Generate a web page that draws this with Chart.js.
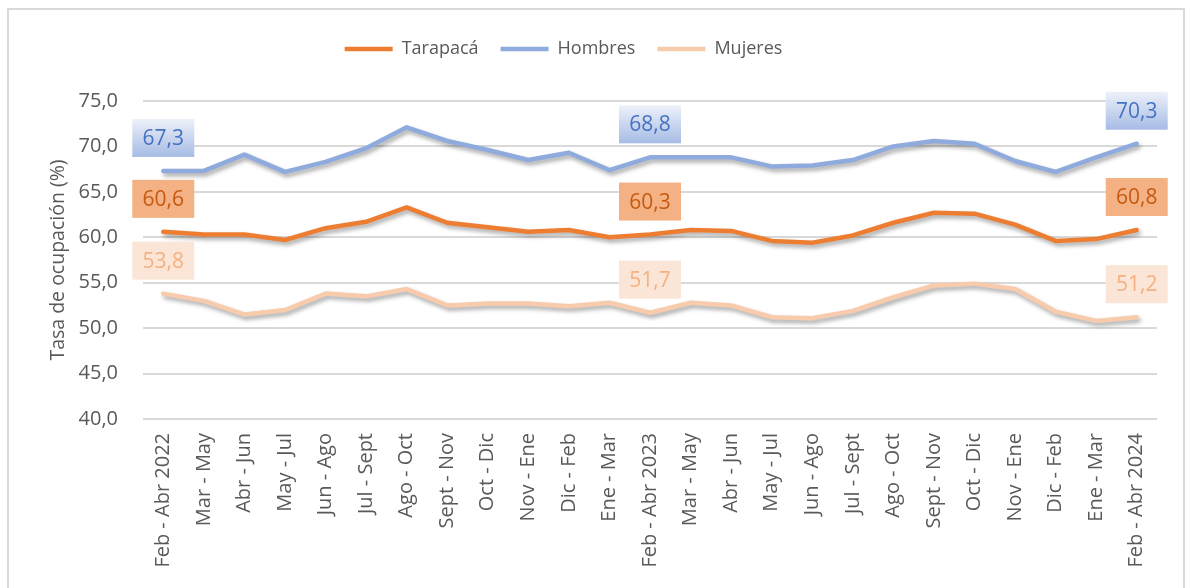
<!DOCTYPE html>
<html lang="es">
<head>
<meta charset="utf-8">
<title>Tasa de ocupación</title>
<script src="https://cdn.jsdelivr.net/npm/chart.js@4.4.1/dist/chart.umd.min.js"></script>
<style>
  html, body { margin: 0; padding: 0; background: #ffffff; }
  #wrap { width: 1193px; height: 588px; position: relative; }
</style>
</head>
<body>
<div id="wrap"><canvas id="ocupacionChart" width="1193" height="588"></canvas></div>
<script>
const categories = [
  "Feb - Abr 2022", "Mar - May", "Abr - Jun", "May - Jul", "Jun - Ago", "Jul - Sept",
  "Ago - Oct", "Sept - Nov", "Oct - Dic", "Nov - Ene", "Dic - Feb", "Ene - Mar",
  "Feb - Abr 2023", "Mar - May", "Abr - Jun", "May - Jul", "Jun - Ago", "Jul - Sept",
  "Ago - Oct", "Sept - Nov", "Oct - Dic", "Nov - Ene", "Dic - Feb", "Ene - Mar",
  "Feb - Abr 2024"
];

const tarapaca = [60.6, 60.3, 60.3, 59.7, 61.0, 61.7, 63.3, 61.6, 61.1, 60.6, 60.8, 60.0,
  60.3, 60.8, 60.7, 59.6, 59.4, 60.2, 61.6, 62.7, 62.6, 61.4, 59.6, 59.8, 60.8];
const hombres = [67.3, 67.3, 69.1, 67.2, 68.3, 69.8, 72.1, 70.6, 69.6, 68.5, 69.3, 67.4,
  68.8, 68.8, 68.8, 67.8, 67.9, 68.5, 70.0, 70.6, 70.3, 68.4, 67.2, 68.8, 70.3];
const mujeres = [53.8, 53.0, 51.5, 52.0, 53.8, 53.5, 54.3, 52.5, 52.7, 52.7, 52.4, 52.8,
  51.7, 52.8, 52.5, 51.2, 51.1, 51.9, 53.4, 54.7, 54.9, 54.3, 51.8, 50.8, 51.2];

const yTicks = [40, 45, 50, 55, 60, 65, 70, 75];
const labeledPoints = [0, 12, 24];

const TEXT_GRAY = "#595959";
const GRID_GRAY = "#D9D9D9";
const LINE_WIDTH = 4.5;

function formatComma(value) {
  return Number(value).toFixed(1).replace(".", ",");
}

// box styles for the value labels, one per dataset
const labelStyles = [
  { fill: "#F4B183", text: "#C55A11" },
  { fill: "gradient", text: "#4472C4" },
  { fill: "#FBE5D6", text: "#F4B183" },
];

const frameBorder = {
  id: "frameBorder",
  beforeDraw(chart) {
    const ctx = chart.ctx;
    ctx.save();
    ctx.strokeStyle = GRID_GRAY;
    ctx.lineWidth = 2;
    ctx.strokeRect(8, 9, 1176, 600);
    ctx.restore();
  },
};

// legend sits a bit left of centre in the original
const legendShift = {
  id: "legendShift",
  afterLayout(chart) {
    if (!chart.legend) return;
    chart.legend.left -= 30;
    chart.legend.right -= 30;
  },
};

const lineShadow = {
  id: "lineShadow",
  beforeDatasetDraw(chart) {
    const ctx = chart.ctx;
    ctx.save();
    ctx.shadowColor = "rgba(0, 0, 0, 0.35)";
    ctx.shadowBlur = 4;
    ctx.shadowOffsetX = 2;
    ctx.shadowOffsetY = 3;
  },
  afterDatasetDraw(chart) {
    chart.ctx.restore();
  },
};

const valueBoxes = {
  id: "valueBoxes",
  afterDatasetsDraw(chart) {
    const ctx = chart.ctx;
    ctx.save();
    ctx.font = "21px 'Open Sans', sans-serif";
    ctx.textAlign = "center";
    ctx.textBaseline = "middle";
    chart.data.datasets.forEach((ds, di) => {
      const meta = chart.getDatasetMeta(di);
      const style = labelStyles[di];
      labeledPoints.forEach((idx) => {
        const pt = meta.data[idx];
        if (!pt) return;
        const w = 62;
        const h = 38;
        const cx = pt.x;
        const cy = pt.y - 33;
        if (style.fill === "gradient") {
          const g = ctx.createLinearGradient(0, cy - h / 2, 0, cy + h / 2);
          g.addColorStop(0, "#EDF1F9");
          g.addColorStop(1, "#A6BBE5");
          ctx.fillStyle = g;
        } else {
          ctx.fillStyle = style.fill;
        }
        ctx.fillRect(cx - w / 2, cy - h / 2, w, h);
        ctx.fillStyle = style.text;
        ctx.fillText(formatComma(ds.data[idx]), cx, cy + 1);
      });
    });
    ctx.restore();
  },
};

function makeDataset(label, data, color) {
  return {
    label,
    data,
    borderColor: color,
    backgroundColor: color,
    pointBorderColor: color,
    pointBackgroundColor: color,
    pointBorderWidth: LINE_WIDTH,
  };
}

function main() {
  Chart.defaults.font.family = "'Open Sans', sans-serif";
  Chart.defaults.color = TEXT_GRAY;

  const ctx = document.getElementById("ocupacionChart");
  new Chart(ctx.getContext("2d"), {
    type: "line",
    data: {
      labels: categories,
      datasets: [
        makeDataset("Tarapacá", tarapaca, "#ED7D31"),
        makeDataset("Hombres", hombres, "#8FAADC"),
        makeDataset("Mujeres", mujeres, "#F8CBAD"),
      ],
    },
    options: {
      responsive: false,
      animation: false,
      elements: {
        line: {
          borderWidth: LINE_WIDTH,
          tension: 0,
          borderJoinStyle: "round",
          borderCapStyle: "round",
        },
        point: { radius: 0, hoverRadius: 0 },
      },
      layout: {
        padding: { top: 18, left: 30, right: 36, bottom: 0 },
      },
      scales: {
        x: {
          offset: true,
          grid: { display: false, drawTicks: false },
          border: { display: false },
          ticks: {
            autoSkip: false,
            minRotation: 90,
            maxRotation: 90,
            padding: 14,
            color: TEXT_GRAY,
            font: { size: 20 },
          },
          afterFit(scale) {
            scale.height = 169;
          },
        },
        y: {
          min: 40,
          max: 75,
          afterBuildTicks(scale) {
            scale.ticks = yTicks.map((v) => ({ value: v }));
          },
          grid: { color: GRID_GRAY, lineWidth: 2, drawTicks: false },
          border: { display: false },
          ticks: {
            padding: 25,
            color: TEXT_GRAY,
            font: { size: 20 },
            callback: (value) => formatComma(value),
          },
          title: {
            display: true,
            text: "Tasa de ocupación (%)",
            color: TEXT_GRAY,
            font: { size: 19.5 },
            padding: { top: 17, bottom: 0 },
          },
          afterFit(scale) {
            scale.width = 143 - 30;
          },
        },
      },
      plugins: {
        legend: {
          display: true,
          position: "top",
          labels: {
            usePointStyle: true,
            pointStyle: "line",
            pointStyleWidth: 48,
            padding: 22,
            color: TEXT_GRAY,
            font: { size: 18 },
          },
        },
        // empty block under the legend, keeps the plot top where the reference has it
        subtitle: {
          display: true,
          text: " ",
          position: "top",
          weight: 500,
          font: { size: 10 },
          padding: { top: 0, bottom: 21 },
        },
        tooltip: { enabled: false },
      },
    },
    plugins: [frameBorder, legendShift, lineShadow, valueBoxes],
  });
}

document.addEventListener("DOMContentLoaded", main);
</script>
</body>
</html>
